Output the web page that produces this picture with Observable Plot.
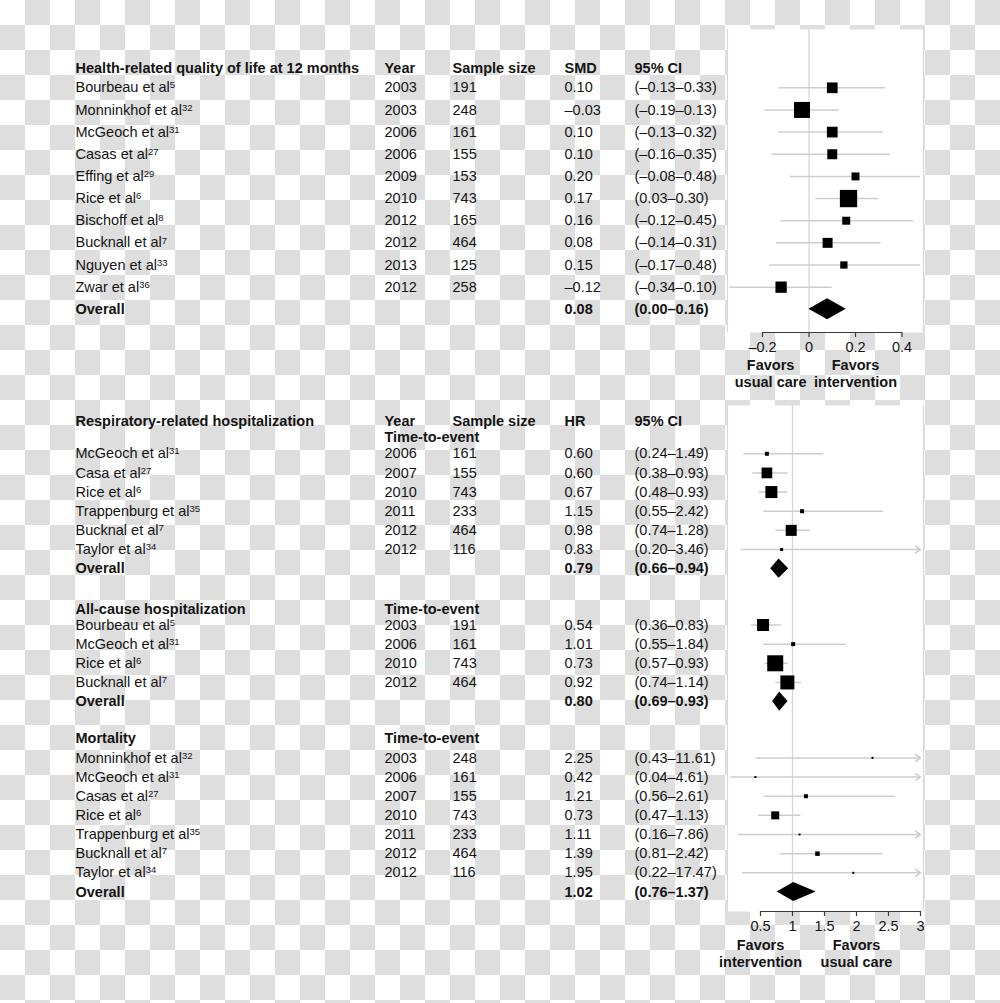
<!DOCTYPE html>
<html>
<head>
<meta charset="utf-8">
<script src="https://cdn.jsdelivr.net/npm/d3@7"></script>
<script src="https://cdn.jsdelivr.net/npm/@observablehq/plot@0.6"></script>
<style>
  html, body { margin: 0; padding: 0; background: #fff; }
  #wrap {
    position: relative; width: 1000px; height: 1003px; overflow: hidden;
    background: repeating-conic-gradient(#dedede 0% 25%, #ffffff 0% 50%) 0 0 / 50px 50px;
    font-family: "Liberation Sans", Arial, Helvetica, sans-serif;
  }
  #wrap svg { position: absolute; left: 0; }
</style>
</head>
<body>
<div id="wrap"></div>
<script>
// ---------------- DATA ----------------
// Panel 1: Health-related quality of life at 12 months (SMD)
const qolHeader = ["Health-related quality of life at 12 months", "Year", "Sample size", "SMD", "95% CI"];
const qolStudies = ["Bourbeau et al", "Monninkhof et al", "McGeoch et al", "Casas et al", "Effing et al", "Rice et al", "Bischoff et al", "Bucknall et al", "Nguyen et al", "Zwar et al"];
const qolRefs = ["5", "32", "31", "27", "29", "6", "8", "7", "33", "36"];
const qolYears = [2003, 2003, 2006, 2006, 2009, 2010, 2012, 2012, 2013, 2012];
const qolN = [191, 248, 161, 155, 153, 743, 165, 464, 125, 258];
const qolSMD = [0.10, -0.03, 0.10, 0.10, 0.20, 0.17, 0.16, 0.08, 0.15, -0.12];
const qolLo = [-0.13, -0.19, -0.13, -0.16, -0.08, 0.03, -0.12, -0.14, -0.17, -0.34];
const qolHi = [0.33, 0.13, 0.32, 0.35, 0.48, 0.30, 0.45, 0.31, 0.48, 0.10];
const qolWeight = [8.9, 19.8, 8.9, 7.7, 4.9, 23.1, 4.9, 7.7, 4.1, 9.9]; // relative weight (box area)
const qolOverall = [0.08, 0.00, 0.16];
const smdTicks = [-0.2, 0, 0.2, 0.4];
const smdFavors = ["Favors\nusual care", "Favors\nintervention"];

// Panel 2: Respiratory-related hospitalization (HR)
const hrHeader = ["Year", "Sample size", "HR", "95% CI"];
const tteLabel = "Time-to-event";
const respTitle = "Respiratory-related hospitalization";
const respStudies = ["McGeoch et al", "Casa et al", "Rice et al", "Trappenburg et al", "Bucknal et al", "Taylor et al"];
const respRefs = ["31", "27", "6", "35", "7", "34"];
const respYears = [2006, 2007, 2010, 2011, 2012, 2012];
const respN = [161, 155, 743, 233, 464, 116];
const respHR = [0.60, 0.60, 0.67, 1.15, 0.98, 0.83];
const respLo = [0.24, 0.38, 0.48, 0.55, 0.74, 0.20];
const respHi = [1.49, 0.93, 0.93, 2.42, 1.28, 3.46];
const respWeight = [4, 28.6, 36, 4, 30.3, 2.3];
const respOverall = [0.79, 0.66, 0.94];

// Panel 3: All-cause hospitalization (HR)
const allTitle = "All-cause hospitalization";
const allStudies = ["Bourbeau et al", "McGeoch et al", "Rice et al", "Bucknall et al"];
const allRefs = ["5", "31", "6", "7"];
const allYears = [2003, 2006, 2010, 2012];
const allN = [191, 161, 743, 464];
const allHR = [0.54, 1.01, 0.73, 0.92];
const allLo = [0.36, 0.55, 0.57, 0.74];
const allHi = [0.83, 1.84, 0.93, 1.14];
const allWeight = [36, 4, 64, 49];
const allOverall = [0.80, 0.69, 0.93];

// Panel 4: Mortality (HR)
const mortTitle = "Mortality";
const mortStudies = ["Monninkhof et al", "McGeoch et al", "Casas et al", "Rice et al", "Trappenburg et al", "Bucknall et al", "Taylor et al"];
const mortRefs = ["32", "31", "27", "6", "35", "7", "34"];
const mortYears = [2003, 2006, 2007, 2010, 2011, 2012, 2012];
const mortN = [248, 161, 155, 743, 233, 464, 116];
const mortHR = [2.25, 0.42, 1.21, 0.73, 1.11, 1.39, 1.95];
const mortLo = [0.43, 0.04, 0.56, 0.47, 0.16, 0.81, 0.22];
const mortHi = [11.61, 4.61, 2.61, 1.13, 7.86, 2.42, 17.47];
const mortWeight = [1, 1, 4, 16, 1, 5.1, 1];
const mortOverall = [1.02, 0.76, 1.37];
const hrTicks = [0.5, 1, 1.5, 2, 2.5, 3];
const hrFavors = ["Favors\nintervention", "Favors\nusual care"];

// ---------------- LAYOUT / STYLE ----------------
const fontFamily = '"Liberation Sans", Arial, Helvetica, sans-serif';
const FS = 14.5;
const TEXT = "#141414";
const CI_COLOR = "#cdcdcd";
const REF_COLOR = "#d6d6d6";
const AXIS_COLOR = "#3a3a3a";
const cols = ["study", "year", "n", "est", "ci"];
const colX = {study: 75, year: 384, n: 452, est: 564, ci: 634};
const ML = 727, MR = 77;

const fmt = v => (v < 0 ? "\u2013" : "") + Math.abs(v).toFixed(2);
const ciText = (lo, hi) => "(" + fmt(lo) + "\u2013" + fmt(hi) + ")";

function tableMarks(rows) {
  const out = [];
  for (const bold of [false, true]) {
    const data = rows.filter(r => r.bold === bold);
    for (const c of cols) {
      out.push(Plot.text(data, {
        y: "pos", text: c, frameAnchor: "left", textAnchor: "start",
        dx: colX[c] - ML, fontSize: FS, fill: TEXT,
        fontWeight: bold ? "bold" : "normal",
        ariaDescription: (!bold && c === "study") ? "study-reg" : "col-" + c
      }));
    }
  }
  return out;
}

function addRefs(svg, rows) {
  const reg = rows.filter(r => !r.bold);
  const g = svg.querySelector('g[aria-description="study-reg"]');
  if (!g) return;
  const texts = g.querySelectorAll("text");
  texts.forEach((t, i) => {
    const ref = reg[i] && reg[i].ref;
    if (!ref) return;
    const ts = document.createElementNS("http://www.w3.org/2000/svg", "tspan");
    ts.setAttribute("dy", "-0.42em");
    ts.setAttribute("font-size", "9.5");
    ts.textContent = ref;
    t.appendChild(ts);
  });
}

function diamond(id, est, lo, hi, pos, h) {
  return [
    {id, y: pos - h, x1: est, x2: est},
    {id, y: pos, x1: lo, x2: hi},
    {id, y: pos + h, x1: est, x2: est}
  ];
}

function axisMarks(ticks, yBottom, fmtTick) {
  return [
    Plot.ruleY([yBottom], {x1: d3.min(ticks), x2: d3.max(ticks), stroke: AXIS_COLOR, strokeWidth: 1.2}),
    Plot.axisX({ticks, tickSize: 5, tickPadding: 4, tickFormat: fmtTick, fontSize: 14.5,
      stroke: AXIS_COLOR, fill: TEXT, label: null, strokeWidth: 1.2})
  ];
}

const wrap = document.getElementById("wrap");

// ---------------- TOP PLOT (SMD) ----------------
{
  const H = 400, MT = 29, MB = 68;
  const rows = [
    {pos: -0.9, bold: true, study: qolHeader[0], year: qolHeader[1], n: qolHeader[2], est: qolHeader[3], ci: qolHeader[4]},
    ...qolStudies.map((s, i) => ({
      pos: i, bold: false, study: s, ref: qolRefs[i], year: String(qolYears[i]), n: String(qolN[i]),
      est: fmt(qolSMD[i]), ci: ciText(qolLo[i], qolHi[i])
    })),
    {pos: qolStudies.length, bold: true, study: "Overall", year: "", n: "", est: fmt(qolOverall[0]), ci: ciText(qolOverall[1], qolOverall[2])}
  ];
  const studies = qolStudies.map((s, i) => ({pos: i, est: qolSMD[i], lo: qolLo[i], hi: qolHi[i], w: qolWeight[i]}));
  const xDomain = [-0.3505, 0.4925];
  const yDomain = [-2.632, 11.047];
  const dia = diamond("o", qolOverall[0], qolOverall[1], qolOverall[2], qolStudies.length, 0.474);

  const svg = Plot.plot({
    width: 1000, height: H, marginLeft: ML, marginRight: MR, marginTop: MT, marginBottom: MB,
    style: {fontFamily, fontSize: "14.5px", color: AXIS_COLOR, background: "transparent", overflow: "visible"},
    x: {domain: xDomain},
    y: {domain: yDomain, range: [MT, H - MB], axis: null},
    r: {type: "sqrt", domain: [0, 100], range: [0, 20.29]},
    marks: [
      Plot.frame({fill: "white", stroke: null}),
      Plot.ruleX(xDomain, {stroke: "#d9d9d9", strokeWidth: 1.2}),
      Plot.ruleX([0], {stroke: REF_COLOR, strokeWidth: 1.3}),
      Plot.ruleY(studies, {y: "pos", x1: "lo", x2: "hi", stroke: CI_COLOR, strokeWidth: 1.5}),
      Plot.dot(studies, {x: "est", y: "pos", r: "w", symbol: "square", fill: "black", stroke: null}),
      Plot.areaX(dia, {y: "y", x1: "x1", x2: "x2", z: "id", fill: "black"}),
      ...axisMarks(smdTicks, yDomain[1], d => d < 0 ? "\u2013" + Math.abs(d) : String(d)),
      Plot.text(smdFavors, {x: [-0.165, 0.2], text: d => d, frameAnchor: "bottom", lineAnchor: "top",
        dy: 25, lineHeight: 1.17, fontWeight: "bold", fontSize: FS, fill: TEXT}),
      ...tableMarks(rows)
    ]
  });
  svg.style.top = "0px";
  wrap.appendChild(svg);
  addRefs(svg, rows);
}

// ---------------- BOTTOM PLOT (HR) ----------------
{
  const H = 603, MT = 5, MB = 92;
  const sections = [
    {title: respTitle, names: respStudies, refs: respRefs, years: respYears, n: respN, est: respHR, lo: respLo, hi: respHi, w: respWeight, overall: respOverall, h: 0, tte: 0.85, first: 1.70, header: true},
    {title: allTitle, names: allStudies, refs: allRefs, years: allYears, n: allN, est: allHR, lo: allLo, hi: allHi, w: allWeight, overall: allOverall, h: 9.80, tte: 0, first: 0.84},
    {title: mortTitle, names: mortStudies, refs: mortRefs, years: mortYears, n: mortN, est: mortHR, lo: mortLo, hi: mortHi, w: mortWeight, overall: mortOverall, h: 16.54, tte: 0, first: 1.04}
  ];
  const rows = [], studies = [], dias = [];
  const xMax = d3.max(hrTicks);
  sections.forEach((s, si) => {
    if (s.header) {
      rows.push({pos: s.h, bold: true, study: s.title, year: hrHeader[0], n: hrHeader[1], est: hrHeader[2], ci: hrHeader[3]});
      rows.push({pos: s.h + s.tte, bold: true, study: "", year: tteLabel, n: "", est: "", ci: ""});
    } else {
      rows.push({pos: s.h, bold: true, study: s.title, year: tteLabel, n: "", est: "", ci: ""});
    }
    const p0 = s.h + s.first;
    s.names.forEach((nm, i) => {
      rows.push({pos: p0 + i, bold: false, study: nm, ref: s.refs[i], year: String(s.years[i]), n: String(s.n[i]),
        est: fmt(s.est[i]), ci: ciText(s.lo[i], s.hi[i])});
      studies.push({pos: p0 + i, est: s.est[i], lo: s.lo[i], hi: s.hi[i], w: s.w[i]});
    });
    const po = p0 + s.names.length;
    rows.push({pos: po, bold: true, study: "Overall", year: "", n: "", est: fmt(s.overall[0]), ci: ciText(s.overall[1], s.overall[2])});
    dias.push(...diamond("d" + si, s.overall[0], s.overall[1], s.overall[2], po, 0.5));
  });
  const inside = studies.filter(d => d.hi <= xMax);
  const clipped = studies.filter(d => d.hi > xMax);
  const xDomain = [-0.0156, 3.047];
  const yDomain = [-0.82, 25.6];

  const svg = Plot.plot({
    width: 1000, height: H, marginLeft: ML, marginRight: MR, marginTop: MT, marginBottom: MB,
    style: {fontFamily, fontSize: "14.5px", color: AXIS_COLOR, background: "transparent", overflow: "visible"},
    x: {domain: xDomain},
    y: {domain: yDomain, range: [MT, H - MB], axis: null},
    r: {type: "sqrt", domain: [0, 100], range: [0, 11.29]},
    marks: [
      Plot.frame({fill: "white", stroke: null}),
      Plot.ruleX(xDomain, {stroke: "#d9d9d9", strokeWidth: 1.2}),
      Plot.ruleX([1], {stroke: REF_COLOR, strokeWidth: 1.3}),
      Plot.ruleY(inside, {y: "pos", x1: "lo", x2: "hi", stroke: CI_COLOR, strokeWidth: 1.5}),
      Plot.arrow(clipped, {y1: "pos", y2: "pos", x1: "lo", x2: () => xMax, stroke: CI_COLOR, strokeWidth: 1.5,
        headLength: 6, headAngle: 70}),
      Plot.dot(studies, {x: "est", y: "pos", r: "w", symbol: "square", fill: "black", stroke: null}),
      Plot.areaX(dias, {y: "y", x1: "x1", x2: "x2", z: "id", fill: "black"}),
      ...axisMarks(hrTicks, yDomain[1], d => String(d)),
      Plot.text(hrFavors, {x: [0.5, 2], text: d => d, frameAnchor: "bottom", lineAnchor: "top",
        dy: 26, lineHeight: 1.17, fontWeight: "bold", fontSize: FS, fill: TEXT}),
      ...tableMarks(rows)
    ]
  });
  svg.style.top = "400px";
  wrap.appendChild(svg);
  addRefs(svg, rows);
}
</script>
</body>
</html>
